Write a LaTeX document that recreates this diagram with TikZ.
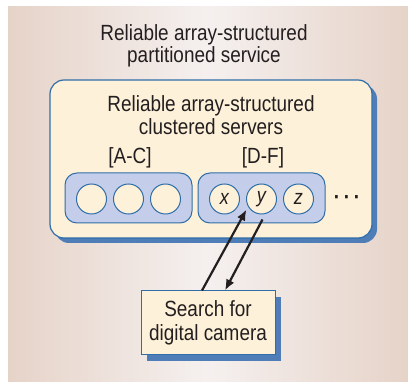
\documentclass[tikz,border=0pt]{standalone}
\usepackage{fontspec}
\setmainfont{Liberation Sans}[FakeStretch=0.86]
\usetikzlibrary{arrows.meta, positioning, shadows}
\definecolor{bgedge}{HTML}{E6D3C8}
\definecolor{bgmid}{HTML}{F5F0EF}
\definecolor{cream}{HTML}{FEF1D9}
\definecolor{lineblue}{HTML}{2F6EA8}
\definecolor{shadowblue}{HTML}{4E7DB7}
\definecolor{groupblue}{HTML}{C4CEEA}
\definecolor{inkgray}{HTML}{231F20}

\begin{document}
\begin{tikzpicture}[
  >=Latex,
  x=1pt, y=-1pt, % 像素坐标, y 轴向下
  servbox/.style={draw=lineblue, line width=1.2pt, fill=cream, rounded corners=14pt,
                  drop shadow={shadow xshift=5pt, shadow yshift=-5pt, fill=shadowblue, opacity=1}},
  groupbox/.style={draw=lineblue, line width=1pt, fill=groupblue, rounded corners=12pt,
                   minimum width=127pt, minimum height=50pt},
  srvnode/.style={circle, draw=lineblue, line width=1pt, fill=cream, minimum size=30pt,
                  inner sep=0pt, font=\fontsize{21}{21}\selectfont\itshape, text=inkgray},
  querybox/.style={draw=lineblue, line width=1pt, fill=cream, minimum width=134pt, minimum height=64pt,
                   align=center, inner sep=1pt, font=\fontsize{22}{24}\selectfont, text=inkgray,
                   drop shadow={shadow xshift=6pt, shadow yshift=-6pt, fill=shadowblue, opacity=1}},
  tlabel/.style={font=\fontsize{22}{22.5}\selectfont, align=center, inner sep=1pt, text=inkgray},
  req/.style={->, line width=2.2pt, inkgray, >={Latex[length=11pt, width=9pt]}}
]
  \useasboundingbox (0,0) rectangle (408,382);
  % 背景
  \shade[left color=bgedge, right color=bgedge, middle color=bgmid] (8,7) rectangle (408,382);

  \node[tlabel] (service) at (204,46) {Reliable array-structured\\partitioned service};

  % 集群外框
  \node[servbox, minimum width=322pt, minimum height=158pt] (cluster) at (211,159) {};
  \node[tlabel] (clustertitle) at (211,115) {Reliable array-structured\\clustered servers};

  % 两个分区
  \node[groupbox] (grpA) at (128.5,198) {};
  \node[groupbox] (grpB) at (261.5,198) {};
  \node[tlabel] (labA) at (130,158) {[A-C]};
  \node[tlabel] (labB) at (263,158) {[D-F]};

  % 分区内的服务器
  \foreach \i/\dx in {1/-37,2/0,3/37} {
    \node[srvnode] (a\i) at (128.5+\dx,199) {};
  }
  \foreach \nm/\dx in {x/-37,y/0,z/37} {
    \node[srvnode] (\nm) at (261.5+\dx,199) {\nm};
  }
  \node[tlabel, font=\fontsize{22}{22}\selectfont\bfseries] (more) at (347,200) {·\,·\,·};

  % 查询请求
  \node[querybox] (search) at (208,323) {Search for\\digital camera};
  \draw[req] ([xshift=-6pt]search.north) -- ([xshift=-15pt, yshift=5pt]y.south);
  \draw[req] ([xshift=1pt, yshift=-5pt]y.south) -- ([xshift=17pt]search.north);
\end{tikzpicture}
\end{document}
